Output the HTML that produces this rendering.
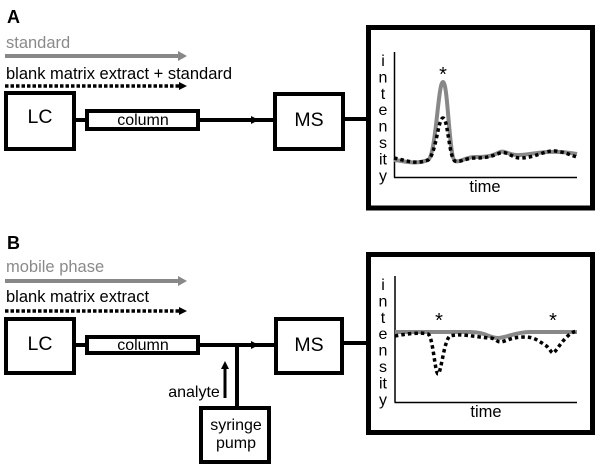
<!DOCTYPE html>
<html><head><meta charset="utf-8"><style>
html,body{margin:0;padding:0;background:#fff;}
svg{display:block;}
text{font-family:"Liberation Sans",Arial,sans-serif;}
</style></head><body>
<svg width="605" height="468" viewBox="0 0 605 468" xmlns="http://www.w3.org/2000/svg">
<rect width="605" height="468" fill="#fff"/>

<!-- ===== Panel A ===== -->
<text x="7" y="23" font-size="18" font-weight="bold" fill="#000">A</text>
<text x="6" y="48" font-size="16.5" fill="#8a8a8a">standard</text>
<line x1="5" y1="56" x2="180" y2="56" stroke="#888" stroke-width="4"/>
<polygon points="178,51 187,56 178,61" fill="#888"/>
<text x="6" y="79" font-size="16.5" fill="#000">blank matrix extract + standard</text>
<line x1="5" y1="86" x2="180" y2="86" stroke="#000" stroke-width="3.5" stroke-dasharray="3.5 2"/>
<polygon points="179,82 187,86 179,90" fill="#000"/>

<rect x="6" y="93" width="68" height="56" fill="none" stroke="#000" stroke-width="4"/>
<text x="40" y="123" font-size="19.5" text-anchor="middle" fill="#000">LC</text>
<line x1="76" y1="120" x2="85" y2="120" stroke="#000" stroke-width="4"/>
<rect x="87" y="111" width="111" height="18" fill="none" stroke="#000" stroke-width="4"/>
<text x="143" y="125" font-size="16" text-anchor="middle" fill="#000">column</text>
<line x1="200" y1="120" x2="273" y2="120" stroke="#000" stroke-width="4"/>
<polygon points="251,116 259,120 251,124" fill="#000"/>
<rect x="275" y="94" width="68" height="55" fill="none" stroke="#000" stroke-width="4"/>
<text x="309" y="126" font-size="19.5" text-anchor="middle" fill="#000">MS</text>
<line x1="345" y1="119" x2="367" y2="119" stroke="#000" stroke-width="4"/>

<rect x="368.5" y="27.5" width="224" height="180.5" fill="none" stroke="#000" stroke-width="5"/>
<line x1="394.5" y1="52" x2="394.5" y2="177.5" stroke="#000" stroke-width="1.5"/>
<line x1="394" y1="177.5" x2="577" y2="177.5" stroke="#000" stroke-width="1.5"/>
<g font-size="16" text-anchor="middle" fill="#000">
<text x="383" y="66">i</text><text x="383" y="82.4">n</text><text x="383" y="98.8">t</text><text x="383" y="115.2">e</text>
<text x="383" y="131.6">n</text><text x="383" y="148">s</text><text x="383" y="164.4">it</text><text x="383" y="180.8">y</text>
</g>
<text x="485" y="192" font-size="16.5" text-anchor="middle" fill="#000">time</text>
<text x="443" y="81" font-size="20" text-anchor="middle" fill="#000">*</text>
<path d="M394,160 C405,161 415,165 428,160 C436,156 438,82 443,82 C448,82 449,158 455,161 C460,163 465,157 475,157 C485,157 490,157 500,152 C505,150 510,156 520,155 C535,154 550,149 577,154" fill="none" stroke="#888" stroke-width="4"/>
<path d="M394,158 C405,160 415,165 428,160 C436,155 438,118 443,118 C448,118 449,158 455,161 C460,163 465,158 475,158 C485,158 490,157 500,153 C508,151 512,158 520,158 C535,158 545,150 555,151 C565,152 570,155 577,157" fill="none" stroke="#000" stroke-width="3.5" stroke-dasharray="3.5 3"/>

<!-- ===== Panel B ===== -->
<text x="7" y="249" font-size="18" font-weight="bold" fill="#000">B</text>
<text x="6" y="272" font-size="16.5" fill="#8a8a8a">mobile phase</text>
<line x1="5" y1="281" x2="180" y2="281" stroke="#888" stroke-width="4"/>
<polygon points="178,276 187,281 178,286" fill="#888"/>
<text x="6" y="302" font-size="16.5" fill="#000">blank matrix extract</text>
<line x1="5" y1="311" x2="180" y2="311" stroke="#000" stroke-width="3.5" stroke-dasharray="3.5 2"/>
<polygon points="179,307 187,311 179,315" fill="#000"/>

<rect x="6" y="319" width="68" height="54" fill="none" stroke="#000" stroke-width="4"/>
<text x="40" y="350" font-size="19.5" text-anchor="middle" fill="#000">LC</text>
<line x1="76" y1="345" x2="85" y2="345" stroke="#000" stroke-width="4"/>
<rect x="87" y="337" width="111" height="16" fill="none" stroke="#000" stroke-width="4"/>
<text x="143" y="350" font-size="16" text-anchor="middle" fill="#000">column</text>
<line x1="200" y1="345" x2="274" y2="345" stroke="#000" stroke-width="4"/>
<polygon points="251,341 259,345 251,349" fill="#000"/>
<line x1="237" y1="345" x2="237" y2="406" stroke="#000" stroke-width="4"/>
<rect x="276" y="319" width="66" height="54" fill="none" stroke="#000" stroke-width="4"/>
<text x="309" y="351" font-size="19.5" text-anchor="middle" fill="#000">MS</text>
<line x1="344" y1="343" x2="367" y2="343" stroke="#000" stroke-width="4"/>

<line x1="225" y1="398" x2="225" y2="368" stroke="#000" stroke-width="3"/>
<polygon points="221,369 225,361 229,369" fill="#000"/>
<text x="194" y="397" font-size="16" text-anchor="middle" fill="#000">analyte</text>

<rect x="201" y="408" width="68" height="54" fill="none" stroke="#000" stroke-width="4"/>
<text x="236" y="430" font-size="16" text-anchor="middle" fill="#000">syringe</text>
<text x="236" y="448" font-size="16" text-anchor="middle" fill="#000">pump</text>

<rect x="368.5" y="254.5" width="224" height="178" fill="none" stroke="#000" stroke-width="5"/>
<line x1="395" y1="276" x2="395" y2="402.5" stroke="#000" stroke-width="1.5"/>
<line x1="394.5" y1="402.5" x2="577" y2="402.5" stroke="#000" stroke-width="1.5"/>
<g font-size="16" text-anchor="middle" fill="#000">
<text x="383" y="290">i</text><text x="383" y="306.4">n</text><text x="383" y="322.8">t</text><text x="383" y="339.2">e</text>
<text x="383" y="355.6">n</text><text x="383" y="372">s</text><text x="383" y="388.4">it</text><text x="383" y="404.8">y</text>
</g>
<text x="486" y="417" font-size="16.5" text-anchor="middle" fill="#000">time</text>
<text x="439" y="327" font-size="20" text-anchor="middle" fill="#000">*</text>
<text x="553" y="327" font-size="20" text-anchor="middle" fill="#000">*</text>
<path d="M395,332 L470,332 C485,332 490,338 498,338 C506,338 515,332 530,332 L577,332" fill="none" stroke="#888" stroke-width="4"/>
<path d="M395,336 C405,334 420,332 428,334 C433,336 435,374 438,374 C441,374 444,340 450,336 C460,333 475,337 490,338 C495,338 497,342 500,342 C505,342 510,337 525,337 C535,337 540,342 545,345 C550,348 551,353 553,353 C556,353 565,333 577,331" fill="none" stroke="#000" stroke-width="3.5" stroke-dasharray="3.5 3"/>
</svg>
</body></html>
